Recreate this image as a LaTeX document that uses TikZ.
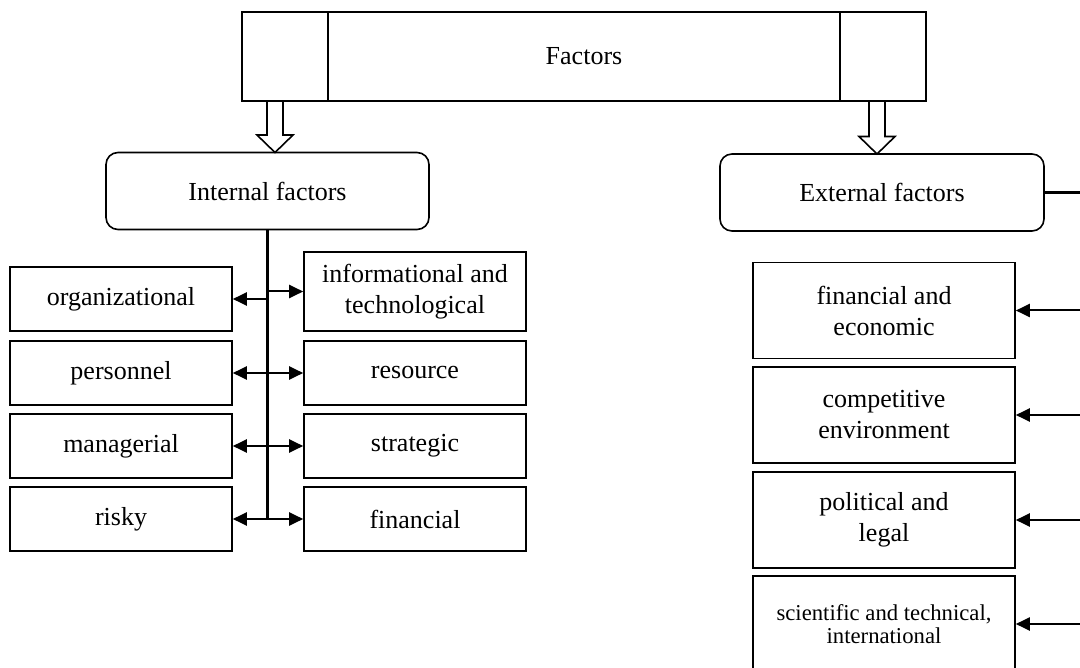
\documentclass[tikz,border=0pt]{standalone}
\usepackage{fontspec}
\setmainfont{Liberation Serif}
\usetikzlibrary{arrows.meta,calc}
\newcommand\hollowdown[3]{%
  \draw[hollow] (#1-8,#2) -- (#1-8,#3-17.5) -- (#1-18,#3-17.5) -- (#1,#3) -- (#1+18,#3-17.5) -- (#1+8,#3-17.5) -- (#1+8,#2);}
\begin{document}
\begin{tikzpicture}[x=1pt,y=-1pt,
  box/.style={draw,line width=1.6pt,inner sep=0pt,align=center,
    font=\fontsize{26}{31}\selectfont},
  lbox/.style={box,minimum width=222pt,minimum height=64pt},
  ebox/.style={box,minimum width=262pt,minimum height=96pt},
  rbox/.style={box,rounded corners=12pt,minimum height=77pt},
  hollow/.style={line width=1.6pt,line join=miter},
  busline/.style={line width=2.6pt},
  arr/.style={line width=2pt,-{Triangle[length=14pt,width=13pt]}}]
\useasboundingbox (0,0) rectangle (1080,668);
\clip (0,0) rectangle (1080,668);
% top box
\node[box,minimum width=86pt,minimum height=89pt] (topL) at (285,56.5) {};
\node[box,minimum width=512pt,minimum height=89pt] (topM) at (584,56.5) {Factors};
\node[box,minimum width=86pt,minimum height=89pt] (topR) at (883,56.5) {};
% second level
\node[rbox,minimum width=323pt] (int) at (267.5,191) {Internal factors};
\node[rbox,minimum width=324pt] (ext) at (882,192.5) {External factors};
% hollow arrows
\hollowdown{275}{101}{152.5}
\hollowdown{877}{101}{154}
% internal factors left column
\node[lbox] (org) at (121,299) {organizational};
\node[lbox] (pers) at (121,373) {personnel};
\node[lbox] (man) at (121,446) {managerial};
\node[lbox] (risk) at (121,519) {risky};
% internal factors right column
\node[lbox,minimum height=79pt] (info) at (415,291.5) {informational and\\technological};
\node[lbox] (res) at (415,373) {resource};
\node[lbox] (strat) at (415,446) {strategic};
\node[lbox] (fin) at (415,519) {financial};
% external factors column
\node[ebox] (fe) at (884,310.5) {financial and\\economic};
\node[ebox] (ce) at (884,415) {competitive\\environment};
\node[ebox] (pl) at (884,520) {political and\\legal};
\node[ebox,font=\fontsize{22.7}{23}\selectfont] (st) at (884,624) {scientific and technical,\\international};
% internal bus
\draw[busline] (int.south) -- (int.south |- risk.east);
\foreach \n in {org,pers,man,risk}
  \draw[arr] (int.south |- \n.east) -- (\n.east);
\foreach \n in {info,res,strat,fin}
  \draw[arr] (int.south |- \n.west) -- (\n.west);
% external bus
\coordinate (busTop) at (1095,192.5);
\draw[busline] (ext.east) -- (busTop) -- (busTop |- st.east);
\foreach \n in {fe,ce,pl,st}
  \draw[arr] (busTop |- \n.east) -- (\n.east);
\end{tikzpicture}
\end{document}
